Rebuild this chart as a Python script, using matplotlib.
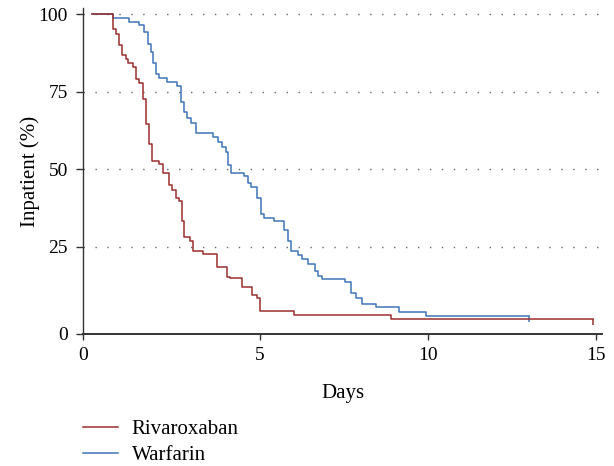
import matplotlib
matplotlib.use("Agg")
import matplotlib.pyplot as plt

# Kaplan-Meier style curves
riva_days = [0, 0.62, 0.72, 0.82, 0.91, 1.01, 1.08, 1.23, 1.31, 1.41, 1.54, 1.63,
             1.71, 1.80, 2.01, 2.13, 2.30, 2.40, 2.51, 2.61, 2.68, 2.76, 2.93, 3.01,
             3.32, 3.72, 4.02, 4.12, 4.48, 4.76, 4.91, 5.02, 6.02, 8.90, 14.91]
riva_pct = [100, 95.1, 93.5, 89.9, 86.9, 85.5, 84.2, 83.0, 79.2, 77.7, 72.5, 64.7,
            58.0, 52.7, 51.6, 48.9, 44.9, 43.3, 40.6, 39.7, 33.3, 28.0, 26.8, 23.7,
            22.5, 18.5, 15.3, 14.8, 11.9, 9.4, 8.5, 4.2, 2.9, 1.6, 1.6]

warf_days = [0, 0.64, 1.12, 1.42, 1.55, 1.68, 1.75, 1.83, 1.91, 1.99, 2.25, 2.55,
             2.65, 2.76, 2.84, 2.96, 3.10, 3.62, 3.75, 3.89, 3.99, 4.05, 4.14, 4.54,
             4.64, 4.74, 4.93, 5.03, 5.14, 5.43, 5.73, 5.83, 5.93, 6.15, 6.26, 6.44,
             6.65, 6.75, 6.84, 7.53, 7.72, 7.86, 8.04, 8.46, 9.15, 9.94, 13.01]
warf_pct = [100, 98.9, 97.6, 96.4, 94.4, 90.3, 87.8, 84.2, 80.7, 79.4, 78.0, 76.8,
            71.7, 68.5, 66.5, 64.9, 61.6, 60.3, 58.9, 57.3, 55.5, 51.4, 48.9, 47.8,
            45.6, 44.4, 40.6, 35.7, 34.4, 33.3, 30.5, 26.8, 23.7, 22.3, 20.9, 19.4,
            17.3, 15.7, 14.7, 13.5, 10.2, 8.4, 6.4, 5.4, 4.0, 2.7, 2.7]

x_ticks = [5, 10, 15]
y_ticks = [25, 50, 75, 100]
x_min, x_max = -0.25, 15.18
y_min, y_max = -3.16, 102

red = "#9c2e2e"
blue = "#3f74b8"
axis_col = "#333333"

plt.rcParams['font.family'] = ['Liberation Serif', 'DejaVu Serif']

fig = plt.figure(figsize=(6.14, 4.66), dpi=100)
ax = fig.add_axes([0.1357, 0.2833, 0.8443, 0.6996])

for g in y_ticks:
    ax.axhline(g, color="#666666", lw=1.0, linestyle=(0, (1, 7.6)), zorder=1)

l_warf, = ax.step(warf_days, warf_pct, where='post', color=blue, lw=1.1, zorder=3)
ax.plot(warf_days[-1], warf_pct[-1], marker=3, ms=4, mew=1.1, color=blue, zorder=3)
l_riva, = ax.step(riva_days, riva_pct, where='post', color=red, lw=1.1, zorder=4)
ax.plot(riva_days[-1], riva_pct[-1], marker=3, ms=4, mew=1.1, color=red, zorder=4)

ax.set_xlim(x_min, x_max)
ax.set_ylim(y_min, y_max)
ax.set_xticks([x_min] + x_ticks, labels=['0'] + [str(t) for t in x_ticks])
ax.set_yticks([y_min] + y_ticks, labels=['0'] + [str(t) for t in y_ticks])

for s in ['top', 'right']:
    ax.spines[s].set_visible(False)
ax.spines['left'].set_color(axis_col)
ax.spines['left'].set_linewidth(1.0)
ax.spines['bottom'].set_color(axis_col)
ax.spines['bottom'].set_linewidth(1.4)
ax.tick_params(axis='both', colors=axis_col, labelcolor='black', width=1.0,
               labelsize=14)
ax.tick_params(axis='x', length=4, pad=5.5)
ax.tick_params(axis='y', length=5, pad=6)

ax.set_xlabel("Days", fontsize=15, labelpad=14)
ax.set_ylabel("Inpatient (%)", fontsize=15)
ax.yaxis.set_label_coords(-0.083, 0.5)

fig.legend([l_riva, l_warf], ["Rivaroxaban", "Warfarin"], loc='upper left',
           bbox_to_anchor=(0.1357, 0.099), frameon=False, fontsize=15,
           handlelength=1.65, handletextpad=0.67, labelspacing=0.3,
           borderaxespad=0, borderpad=0)

fig.savefig("out.png", dpi=100)
